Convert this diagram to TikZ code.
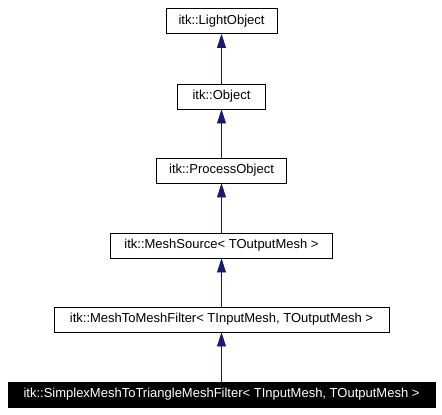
\documentclass[tikz,border=0pt]{standalone}
\usepackage{fontspec}
\setmainfont{Liberation Sans}
\usetikzlibrary{arrows.meta}
\definecolor{blunotte}{HTML}{191970}
\begin{document}
\begin{tikzpicture}[x=1pt, y=-1pt, >={Triangle[width=9pt,length=14pt]},
    classe/.style={draw=black, line width=0.8pt, inner sep=0pt,
        minimum height=25pt, font=\fontsize{13}{15}\selectfont},
    eredita/.style={<-, blunotte, line width=0.8pt}]
    % Riquadro
    \useasboundingbox (0,0) rectangle (442,415);

    % Classi
    \node[classe, minimum width=111pt] (light) at (221.5,21) {itk::LightObject};
    \node[classe, minimum width=88pt] (obj) at (221.5,96.5) {itk::Object};
    \node[classe, minimum width=130pt] (proc) at (221.5,170.5) {itk::ProcessObject};
    \node[classe, minimum width=222pt] (msrc) at (221.5,245.5) {itk::MeshSource< TOutputMesh >};
    \node[classe, minimum width=335pt] (m2m) at (221.5,319.5)
        {itk::MeshToMeshFilter< TInputMesh, TOutputMesh >};
    \node[classe, fill=black, text=white, minimum width=427pt] (simplex) at (221.5,394.5)
        {itk::SimplexMeshToTriangleMeshFilter< TInputMesh, TOutputMesh >};

    % Ereditarieta
    \foreach \padre/\figlio in {light/obj, obj/proc, proc/msrc, msrc/m2m, m2m/simplex}
        \draw[eredita] (\padre) -- (\figlio);
\end{tikzpicture}
\end{document}
